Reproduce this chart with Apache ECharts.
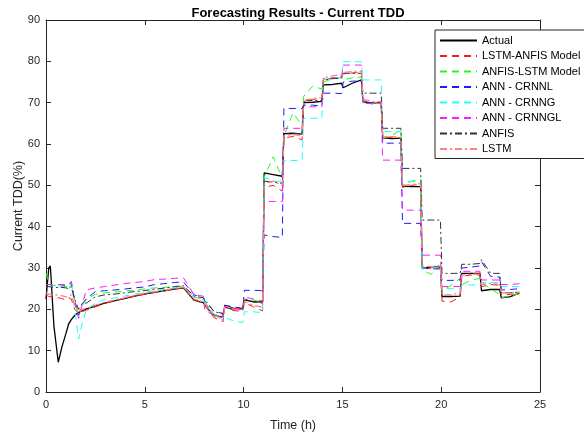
<!DOCTYPE html>
<html>
<head>
<meta charset="utf-8">
<script src="https://cdn.jsdelivr.net/npm/echarts@6/dist/echarts.min.js"></script>
<style>html,body{margin:0;padding:0;background:#fff;}#c{width:584px;height:432px;}</style>
</head>
<body>
<div id="c"></div>
<script>
// Time grid (hours)
const timeH = [0, 0.1, 0.14, 0.22, 0.4, 0.62, 0.8, 1.0, 1.15, 1.28, 1.45, 1.65, 1.85,
  2.04, 2.5, 2.96, 3.04, 3.5, 3.96, 4.04, 4.5, 4.96, 5.04, 5.5, 5.96, 6.04, 6.5, 6.96,
  7.04, 7.5, 7.96, 8.04, 8.5, 8.96, 9.04, 9.5, 9.96, 10.04, 10.5, 10.96, 11.04, 11.5, 11.96,
  12.04, 12.5, 12.96, 13.04, 13.5, 13.96, 14.04, 14.5, 14.96, 15.04, 15.5, 15.96,
  16.04, 16.5, 16.96, 17.04, 17.5, 17.96, 18.04, 18.5, 18.96, 19.04, 19.5, 19.96,
  20.04, 20.5, 20.96, 21.04, 21.5, 21.96, 22.04, 22.5, 22.96, 23.04, 23.5, 23.96];

const actual = [22.5, 22.5, 30, 30.5, 16, 7.2, 10.8, 14, 16.5, 17.5, 18.5, 19.3, 19.7,
  20.1, 20.8, 21.5, 21.6, 22.1, 22.6, 22.8, 23.2, 23.7, 23.8, 24.1, 24.5, 24.6, 24.9, 25.2,
  25.1, 22.2, 21.6, 21.3, 18.5, 18.2, 20.6, 19.9, 20.2, 22.3, 21.8, 21.8, 53, 52.6, 52.2,
  62.5, 62.6, 62.4, 70, 70.1, 70.3, 74.3, 74.4, 74.7, 73.6, 74.7, 75.5,
  70.2, 69.8, 70.2, 61.5, 61.3, 61.4, 49.8, 49.7, 49.7, 30, 30.2, 30.3,
  23.1, 23.1, 23.2, 28.7, 28.7, 28.7, 24.5, 24.8, 24.8, 22.8, 23.1, 23.9];

const lstmAnfis = [23.5, 23.2, 23.1, 23, 23, 22.8, 22.6, 22.3, 22.8, 22.5, 20, 19, 19.5,
  19.8, 20.6, 21.4, 21.6, 22.1, 22.6, 22.8, 23.2, 23.6, 23.8, 24.1, 24.4, 24.6, 24.9, 25.2,
  25.2, 22.3, 21.4, 21.0, 18.0, 17.0, 20.5, 19.7, 19.5, 21.6, 20.6, 19.6, 49.5, 50, 48.6,
  61.5, 61.8, 61.0, 70.2, 70.8, 71, 75.5, 76, 76.3, 77, 77.2, 77.3,
  70.5, 70, 70, 61.4, 61.6, 61.4, 49.5, 50, 50.2, 30, 29.8, 30.5,
  22, 21.8, 23, 28, 28.3, 28.3, 25.5, 26, 25.8, 23.5, 23.6, 24];

const anfisLstm = [28.8, 27, 26, 25.8, 25.8, 25.8, 25.6, 25.5, 25.6, 26.5, 22, 18.3, 21,
  22.5, 23.6, 24, 24, 24.2, 24.4, 24.5, 24.7, 24.9, 25, 25.2, 25.3, 25.4, 25.5, 25.6,
  25.4, 23, 22.4, 21.8, 18.8, 18.3, 21, 20.2, 20.3, 22.5, 22.2, 21.8, 52, 56.9, 51.7,
  62, 67.5, 64.5, 71.5, 74, 73.3, 75, 75.8, 76, 75.5, 76, 76.2,
  70, 69.7, 70.5, 61.5, 62, 63.5, 50, 51, 51.5, 29.5, 28.5, 30.5,
  24.5, 25.8, 27.5, 26, 27, 27.5, 26.5, 25, 23.5, 22.8, 23.2, 23.8];

const crnnL = [26, 26, 26, 26, 26, 26, 25.9, 25.8, 25.8, 26.6, 22, 18.6, 21.5,
  22.5, 24.3, 24.5, 24.5, 24.7, 24.9, 25, 25.2, 25.4, 25.6, 26, 26.2, 26.3, 26.5, 26.6,
  26.4, 23.5, 22.8, 22, 19.5, 19, 21, 20.6, 20.2, 24.6, 24.6, 24.5, 38, 37.6, 37.4,
  68.6, 68.6, 68.6, 69.4, 69.4, 69.2, 72.3, 72.3, 72.2, 75, 75.2, 75.3,
  70.2, 70, 70, 60.2, 60.2, 60.2, 40.8, 40.8, 40.8, 30, 29.8, 29.8,
  27, 27, 27.1, 30, 30.2, 30.5, 31.5, 28, 27.8, 24.7, 24.8, 25];

const crnnG = [25.5, 25.5, 25.5, 25.5, 25.5, 25.5, 25.3, 25.2, 24.8, 26.3, 20, 12.8, 17,
  19.8, 21.5, 22.3, 22.4, 22.8, 23.2, 23.4, 23.7, 24, 24.3, 24.6, 24.8, 25, 25.2, 25.4,
  25.4, 23, 22.3, 21.5, 18.5, 17.4, 18, 17.2, 16.8, 19.4, 19.4, 19.2, 52, 51, 51,
  56, 56, 56.1, 66.2, 66.2, 66.3, 75.5, 76, 76, 79.9, 79.9, 79.9,
  75.5, 75.5, 75.5, 63, 63, 63, 50.9, 50.9, 50.9, 30, 30, 30.3,
  25, 25, 25, 25.9, 25.9, 25.9, 26.5, 26.5, 26.5, 25.5, 25.5, 25.5];

const crnnGL = [26, 26, 26, 26, 26, 26, 26, 26, 26, 26.8, 22, 17.8, 21.5,
  24.7, 25.2, 25.5, 25.6, 25.9, 26.2, 26.3, 26.5, 26.7, 27, 27.2, 27.3, 27.4, 27.5, 27.6,
  27.6, 23.5, 23.2, 19.8, 18.5, 18, 20.7, 20.2, 20.2, 23, 22.5, 22, 46.1, 46.1, 46.1,
  63.8, 63.8, 63.8, 69, 69, 69, 75.9, 75.9, 76, 79.1, 79.1, 79.1,
  69.8, 69.8, 69.8, 56.1, 56.1, 56.1, 44, 44, 44, 33.1, 33.1, 33.1,
  25.5, 25.5, 25.5, 29.2, 29.2, 29.2, 27.1, 27.1, 27.1, 26, 26, 26.2];

const anfis = [25.5, 25.5, 25.5, 25.3, 25.3, 25.3, 25.3, 25.2, 25, 25.5, 22.5, 20, 21.5,
  21.5, 23, 23.5, 23.5, 23.7, 24, 24.1, 24.3, 24.5, 24.7, 24.9, 25.1, 25.3, 25.5, 25.7,
  25.8, 23.2, 22.8, 22.3, 19.5, 18.8, 21, 20.3, 20.5, 22.5, 21.8, 21.5, 51, 50.8, 50.5,
  62.5, 62.5, 62.5, 70.5, 70.5, 70.5, 75.5, 75.8, 76, 77.1, 77.1, 77.1,
  72.3, 72.3, 72.3, 63.8, 63.8, 63.8, 54.1, 54.1, 54.1, 41.6, 41.6, 41.6,
  28.7, 28.7, 28.7, 30.9, 30.9, 31.1, 32, 28.7, 28.7, 24, 24, 24.2];

const lstm = [24, 23.8, 23.6, 23.5, 23.5, 23.4, 23.3, 23, 23.2, 23.5, 21, 19.5, 20,
  20.2, 21, 21.7, 21.8, 22.3, 22.8, 23, 23.4, 23.8, 24, 24.3, 24.6, 24.8, 25.1, 25.4,
  25.3, 22.5, 21.8, 21.3, 18.5, 17.8, 20.6, 20, 19.8, 21.8, 21, 20.5, 50.5, 51, 50,
  62, 62.3, 62, 70.5, 71, 71.2, 76, 76.5, 76.8, 77.3, 77.5, 77.6,
  70.8, 70.3, 70.2, 61.8, 61.8, 61.6, 50, 50.2, 50.4, 30.5, 30.3, 30.6,
  23.5, 23.5, 24, 28.3, 28.5, 28.5, 26, 26.3, 26, 24, 24, 24.2];

const seriesNames = ['Actual', 'LSTM-ANFIS Model', 'ANFIS-LSTM Model', 'ANN - CRNNL',
  'ANN - CRNNG', 'ANN - CRNNGL', 'ANFIS', 'LSTM'];
const seriesValues = [actual, lstmAnfis, anfisLstm, crnnL, crnnG, crnnGL, anfis, lstm];
const xTicks = [0, 5, 10, 15, 20, 25];
const yTicks = [0, 10, 20, 30, 40, 50, 60, 70, 80, 90];

const styles = [
  {color: '#000000', width: 1.3, type: 'solid'},
  {color: '#ff1a1a', width: 1, type: [7, 5]},
  {color: '#1aff1a', width: 1, type: [7, 5]},
  {color: '#1a1aff', width: 1, type: [7, 5]},
  {color: '#1affff', width: 1, type: [7, 5]},
  {color: '#ff1aff', width: 1, type: [7, 5]},
  {color: '#333333', width: 1, type: [7, 3, 2, 3]},
  {color: '#ff8080', width: 1.3, type: [7, 3, 2, 3]}
];

const font = 'Liberation Sans, Arial, Helvetica, sans-serif';
const chart = echarts.init(document.getElementById('c'), null, {renderer: 'canvas'});

function axisCommon() {
  return {
    axisLine: {show: true, onZero: false, lineStyle: {color: '#262626', width: 1}},
    axisTick: {show: true, inside: true, length: 5, lineStyle: {color: '#262626'}},
    splitLine: {show: false}
  };
}

chart.setOption({
  animation: false,
  backgroundColor: '#ffffff',
  title: {
    text: 'Forecasting Results - Current TDD',
    left: 293, textAlign: 'center', top: 2,
    textStyle: {fontFamily: font, fontSize: 13, fontWeight: 'bold', color: '#000'}
  },
  grid: {left: 46, right: 44, top: 20, bottom: 40, containLabel: false, outerBoundsMode: 'none'},
  legend: {
    data: seriesNames,
    orient: 'vertical',
    left: 435, top: 30,
    padding: [5, 6, 4, 4],
    itemWidth: 37, itemHeight: 10, itemGap: 4.5,
    itemStyle: {opacity: 0},
    backgroundColor: '#ffffff',
    borderColor: '#262626', borderWidth: 1,
    textStyle: {fontFamily: font, fontSize: 11, color: '#000', lineHeight: 11}
  },
  xAxis: [
    Object.assign({
      type: 'value', min: xTicks[0], max: xTicks[xTicks.length - 1], interval: 5,
      name: 'Time (h)', nameLocation: 'middle', nameGap: 27, nameMoveOverlap: false,
      nameTextStyle: {fontFamily: font, fontSize: 12.5, color: '#262626'},
      axisLabel: {fontFamily: font, fontSize: 11, color: '#262626', margin: 7}
    }, axisCommon()),
    Object.assign({
      type: 'value', position: 'top', min: xTicks[0], max: xTicks[xTicks.length - 1], interval: 5,
      axisLabel: {show: false}
    }, axisCommon())
  ],
  yAxis: [
    Object.assign({
      type: 'value', min: yTicks[0], max: yTicks[yTicks.length - 1], interval: 10,
      name: 'Current TDD(%)', nameLocation: 'middle', nameGap: 21, nameMoveOverlap: false,
      nameTextStyle: {fontFamily: font, fontSize: 12.5, color: '#262626'},
      axisLabel: {fontFamily: font, fontSize: 11, color: '#262626', margin: 6}
    }, axisCommon()),
    Object.assign({
      type: 'value', position: 'right', min: yTicks[0], max: yTicks[yTicks.length - 1], interval: 10,
      axisLabel: {show: false}
    }, axisCommon())
  ],
  series: seriesNames.map((name, k) => ({
    name: name,
    type: 'line',
    xAxisIndex: 0, yAxisIndex: 0,
    symbol: 'none',
    showSymbol: false,
    smooth: false,
    data: timeH.map((t, i) => [t, seriesValues[k][i]]),
    lineStyle: {color: styles[k].color, width: styles[k].width, type: styles[k].type},
    itemStyle: {color: styles[k].color}
  }))
});
</script>
</body>
</html>
